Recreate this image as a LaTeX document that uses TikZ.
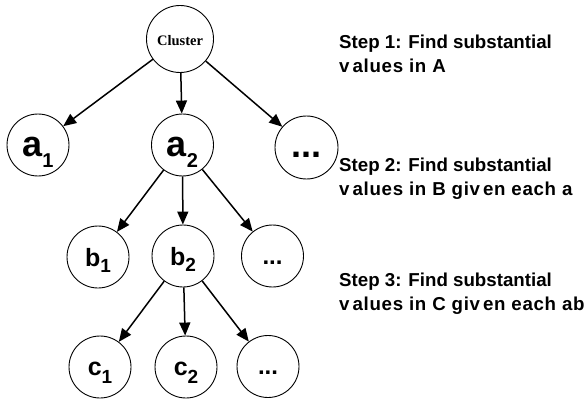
\documentclass[tikz,border=0pt]{standalone}
\usepackage{fontspec}
\setmainfont{Liberation Sans}
\newfontfamily\clusterfont{Liberation Serif}
\newfontfamily\widefont[LetterSpace=3.7]{Liberation Sans}
\usetikzlibrary{arrows.meta}
\newcommand\mysub[3]{\raisebox{-#2}{\fontsize{#1}{#1}\selectfont #3}}
\newcommand\vv{v\kern3pt}
\begin{document}
\begin{tikzpicture}[x=1pt,y=-1pt,
  nd/.style={circle, draw, line width=0.9pt, minimum size=62pt, inner sep=0pt},
  arr/.style={line width=1.5pt, -{Triangle[length=13pt,width=11pt]}},
  lblA/.style={font=\fontsize{36}{36}\selectfont\bfseries, text height=24pt, text depth=0pt},
  lblB/.style={font=\fontsize{25}{25}\selectfont\bfseries, text height=18pt, text depth=0pt},
  lblC/.style={font=\fontsize{25}{25}\selectfont\bfseries, text height=16pt, text depth=0pt},
  dotsA/.style={font=\fontsize{36}{36}\selectfont\bfseries, text height=20pt, text depth=0pt},
  dotsB/.style={font=\fontsize{24}{24}\selectfont\bfseries, text height=16pt, text depth=0pt},
  steptext/.style={anchor=base west, align=left, inner sep=0pt,
    font=\fontsize{18.7}{24}\selectfont\bfseries}]
\useasboundingbox (0,0) rectangle (586,401);

\node[nd, minimum size=67pt, font=\clusterfont\fontsize{14.5}{14.5}\selectfont\bfseries,
      text height=13pt, text depth=0pt] (cl) at (180,39) {Cluster};

\node[nd, lblA] (a1) at (38,145) {a\mysub{20}{11pt}{1}};
\node[nd, lblA] (a2) at (182.5,145) {a\mysub{20}{11pt}{2}};
\node[nd, dotsA, minimum size=63pt] (a3) at (306.5,147.5) {...};

\node[nd, lblB] (b1) at (98,257) {b\mysub{19}{6pt}{1}};
\node[nd, lblB] (b2) at (183,256) {b\mysub{19}{6pt}{2}};
\node[nd, dotsB] (b3) at (272.5,256) {...};

\node[nd, lblC] (c1) at (100,367) {c\mysub{19}{8pt}{1}};
\node[nd, lblC] (c2) at (186,367) {c\mysub{19}{8pt}{2}};
\node[nd, dotsB] (c3) at (268,366.5) {...};

\draw[arr] (cl) -- (a1);
\draw[arr] (cl) -- (a2);
\draw[arr] (cl) -- (a3);
\draw[arr] (a2) -- (b1);
\draw[arr] (a2) -- (b2);
\draw[arr] (a2) -- (b3);
\draw[arr] (b2) -- (c1);
\draw[arr] (b2) -- (c2);
\draw[arr] (b2) -- (c3);

\node[steptext] (s1) at (339,72.7) {Step 1: Find substantial\\{\widefont\bfseries\vv alues in A}};
\node[steptext] (s2) at (339,195) {Step 2: Find substantial\\{\widefont\bfseries\vv alues in B gi\vv en each a}};
\node[steptext] (s3) at (339,310) {Step 3: Find substantial\\{\widefont\bfseries\vv alues in C gi\vv en each ab}};
\end{tikzpicture}
\end{document}
